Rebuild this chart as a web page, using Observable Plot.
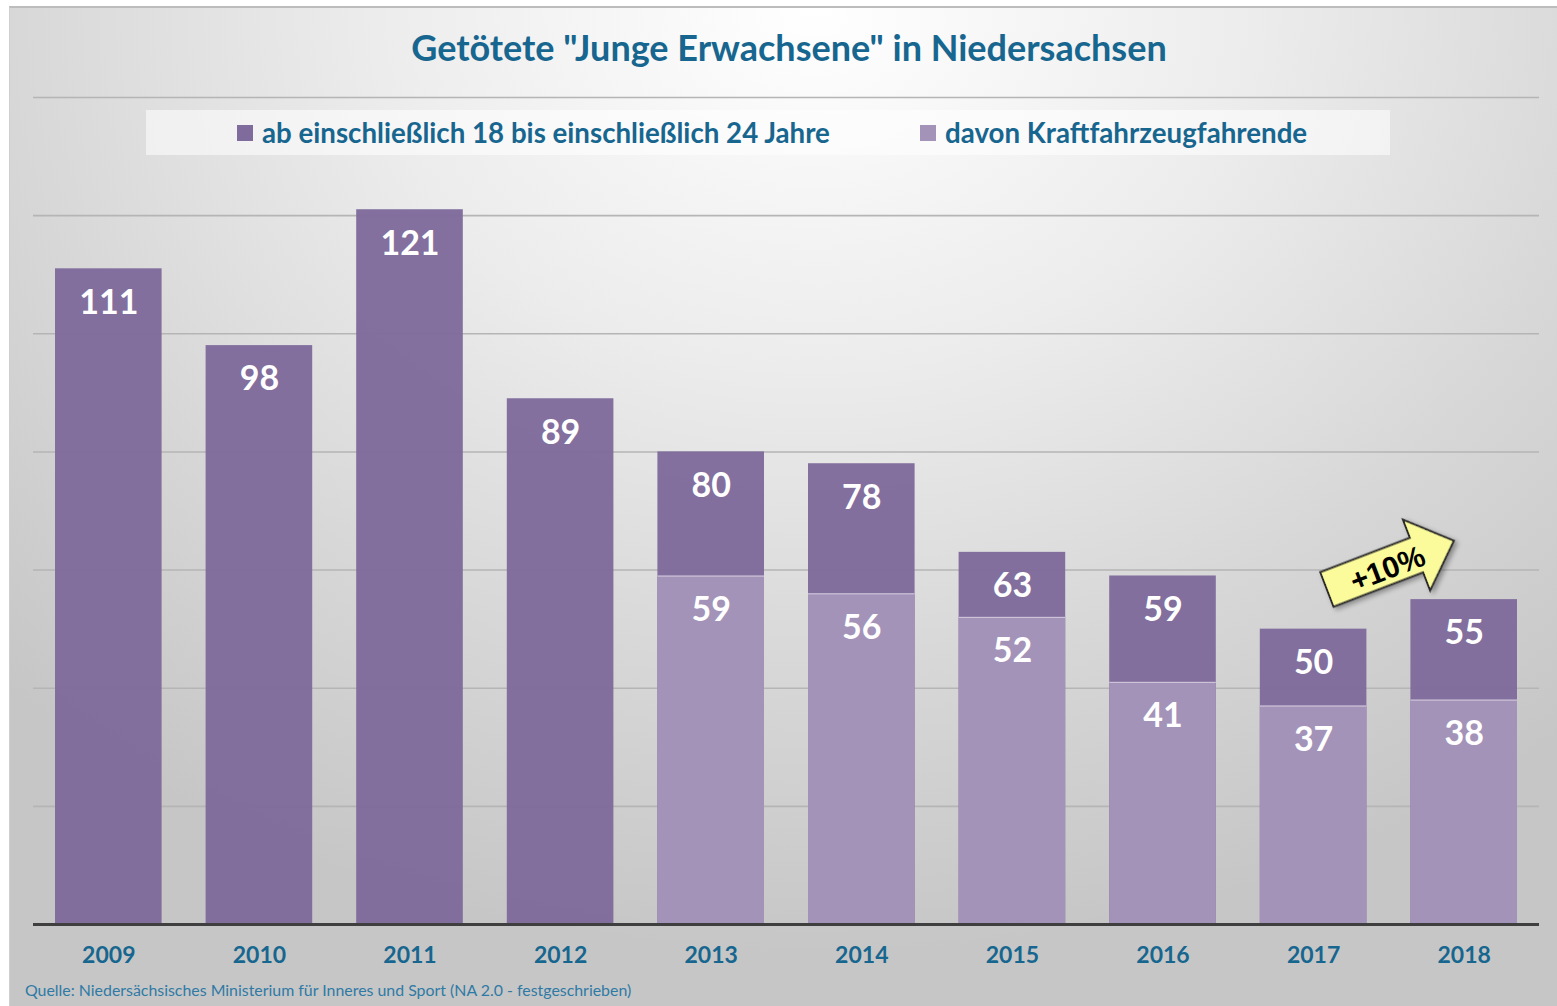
<!DOCTYPE html>
<html>
<head>
<meta charset="utf-8">
<script src="https://cdn.jsdelivr.net/npm/d3@7"></script>
<script src="https://cdn.jsdelivr.net/npm/@observablehq/plot@0.6"></script>
<style>
  html, body { margin: 0; padding: 0; background: #ffffff; }
  #wrap { position: relative; width: 1557px; height: 1006px; overflow: hidden; font-family: Lato, "Open Sans", sans-serif; }
  #panel { position: absolute; left: 9px; top: 6px; right: 0; bottom: 0;
    border-top: 2px solid #bcbcbc; border-left: 1px solid #cfcfcf;
    background: radial-gradient(ellipse 75% 95% at 52% 0%, #ffffff 0%, #ececec 38%, #d7d7d7 70%, #c6c6c6 100%); }
  #title { position: absolute; left: 0; width: 1578px; top: 25px; text-align: center;
    font-size: 36px; font-weight: 700; color: #17668f; line-height: 44px; }
  #legend { position: absolute; left: 146px; top: 110px; width: 1244px; height: 45px;
    background: rgba(255,255,255,0.55); }
  .item { position: absolute; top: 0; height: 45px; line-height: 45px; font-size: 27.7px; font-weight: 700; color: #17668f; white-space: nowrap; }
  .sw { position: absolute; top: 15px; width: 16px; height: 16px; }
  #source { position: absolute; left: 25px; top: 980px; font-size: 15.9px; color: #2f7aa5; white-space: nowrap; line-height: 20px; }
  svg.plot, #wrap > svg { position: absolute; left: 0; top: 0; }
  #err { position: absolute; left: 40px; top: 300px; color: red; font-size: 16px; white-space: pre; }
</style>
</head>
<body>
<div id="wrap">
  <div id="panel"></div>
  <div id="title"></div>
  <div id="legend"></div>
  <div id="source"></div>
</div>
<script>
const years = ["2009","2010","2011","2012","2013","2014","2015","2016","2017","2018"];
const totals = [111, 98, 121, 89, 80, 78, 63, 59, 50, 55];
const kfzYears = ["2013","2014","2015","2016","2017","2018"];
const kfzValues = [59, 56, 52, 41, 37, 38];
const gridTicks = [20, 40, 60, 80, 100, 120, 140];
const seriesNames = ["ab einschließlich 18 bis einschließlich 24 Jahre", "davon Kraftfahrzeugfahrende"];
const seriesColors = ["#7f6b9c", "#a493b9"];
const titleText = 'Getötete "Junge Erwachsene" in Niedersachsen';
const sourceText = "Quelle: Niedersächsisches Ministerium für Inneres und Sport (NA 2.0 - festgeschrieben)";
const trendLabel = "+10%";

const totalData = years.map((y, i) => ({year: y, value: totals[i]}));
const kfzData = kfzYears.map((y, i) => ({year: y, value: kfzValues[i]}));

document.getElementById("title").textContent = titleText;
document.getElementById("source").textContent = sourceText;
const legend = document.getElementById("legend");
const legendX = [91, 774];
seriesNames.forEach((name, i) => {
  const sw = document.createElement("div");
  sw.className = "sw";
  sw.style.left = legendX[i] + "px";
  sw.style.background = seriesColors[i];
  legend.appendChild(sw);
  const t = document.createElement("div");
  t.className = "item";
  t.style.left = (legendX[i] + 25) + "px";
  t.textContent = name;
  legend.appendChild(t);
});

try {
  const plot = Plot.plot({
    width: 1557,
    height: 1006,
    marginLeft: 33,
    marginRight: 18,
    marginTop: 97,
    marginBottom: 82,
    style: {background: "transparent", fontFamily: "Lato, 'Open Sans', sans-serif", overflow: "visible"},
    x: {domain: years, padding: 0, round: false, axis: null},
    y: {domain: [0, 140], axis: null},
    marks: [
      Plot.ruleY(gridTicks, {stroke: "#b5b5b5", strokeWidth: 1.6}),
      Plot.barY(totalData, {x: "year", y: "value", fill: seriesColors[0], fillOpacity: 0.97, insetLeft: 22, insetRight: 22}),
      Plot.barY(kfzData, {x: "year", y: "value", fill: seriesColors[1], insetLeft: 22, insetRight: 22}),
      Plot.barY(kfzData, {x: "year", y1: d => d.value - 0.2, y2: "value", fill: "#ffffff", fillOpacity: 0.45, insetLeft: 22, insetRight: 22}),
      Plot.ruleY([0], {stroke: "#3f3f3f", strokeWidth: 3}),
      Plot.text(totalData, {x: "year", y: "value", text: d => String(d.value), dy: 34, fill: "#ffffff", fontSize: 34, fontWeight: 700}),
      Plot.text(kfzData, {x: "year", y: "value", text: d => String(d.value), dy: 34, fill: "#ffffff", fontSize: 34, fontWeight: 700}),
      Plot.text(totalData, {x: "year", y: 0, text: "year", dy: 31, fill: "#17668f", fontSize: 23, fontWeight: 700})
    ]
  });
  document.getElementById("wrap").appendChild(plot);

  // trend arrow annotation between the last two bars, positioned through the plot's scales
  const xs = plot.scale("x"), ys = plot.scale("y");
  const bw = xs.bandwidth;
  const cx = (xs.apply("2017") + xs.apply("2018")) / 2 + bw / 2 + 2;
  const cy = ys.apply(totals[totals.length - 1]) - 34;
  const svg = d3.select(plot);
  const defs = svg.append("defs");
  const f = defs.append("filter").attr("id", "shadow").attr("x", "-30%").attr("y", "-30%").attr("width", "160%").attr("height", "160%");
  f.append("feDropShadow").attr("dx", 2).attr("dy", 3).attr("stdDeviation", 2.5).attr("flood-color", "#000").attr("flood-opacity", 0.35);
  const g = svg.append("g").attr("transform", `translate(${cx},${cy}) rotate(-21)`);
  g.append("path")
    .attr("d", "M-68,-18.5 L28,-18.5 L28,-38 L68,0 L28,38 L28,18.5 L-68,18.5 Z")
    .attr("fill", "#fbfb9c").attr("stroke", "#2b2b2b").attr("stroke-width", 2).attr("stroke-linejoin", "miter")
    .attr("filter", "url(#shadow)");
  g.append("text").text(trendLabel)
    .attr("x", -4).attr("y", 2)
    .attr("text-anchor", "middle").attr("dominant-baseline", "central")
    .attr("font-family", "'Liberation Sans', Arial, sans-serif").attr("font-weight", 700).attr("font-size", 30).attr("fill", "#000");
} catch (e) {
  const d = document.createElement("div");
  d.id = "err";
  d.textContent = String(e && e.stack || e);
  document.getElementById("wrap").appendChild(d);
}
</script>
</body>
</html>
